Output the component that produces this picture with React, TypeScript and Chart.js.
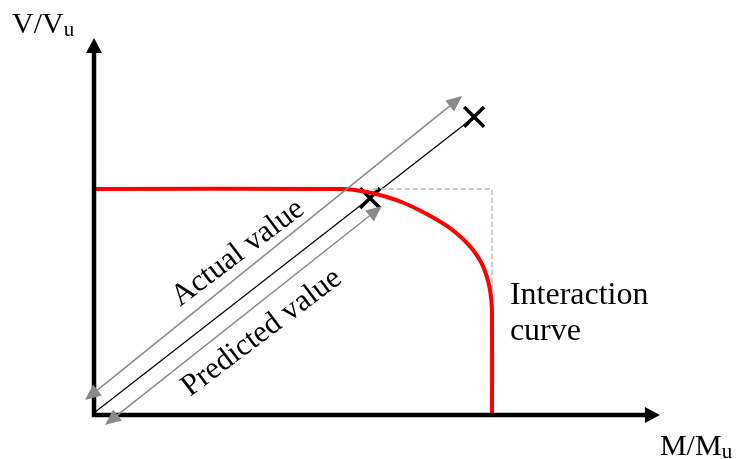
import React, { useEffect, useRef } from "react";
import { Chart, registerables } from "chart.js";

Chart.register(...registerables);

// ---- data (normalised M/Mu, V/Vu) ----
const curveM = [0, 0.6256, 0.6859, 0.7362, 0.7789, 0.8116, 0.8518, 0.8945, 0.9271, 0.9523, 0.9724, 0.9849, 0.9937, 0.9982, 1.0, 1.0];
const curveV = [1.0, 1.0, 0.9867, 0.9646, 0.9381, 0.9115, 0.8739, 0.8274, 0.7788, 0.7301, 0.677, 0.6239, 0.5664, 0.5088, 0.4558, 0];

const boundM = [0.701, 1.0, 1.0];
const boundV = [1.0, 1.0, 0.52];

const loadM = [0.003, 0.955];
const loadV = [0.013, 1.319];

const markM = [0.6935, 0.955];
const markV = [0.96, 1.319];

const xRange = [-0.2362, 1.6156];
const yRange = [-0.1947, 1.8363];

// arrows: [fromM, fromV, toM, toV]
const axisY = [0, 0, 0, 1.668];
const axisX = [0, 0, 1.422, 0];
const actualArrow = [-0.0226, 0.066, 0.925, 1.412];
const predictedArrow = [0.0276, -0.044, 0.7236, 0.925];

// labels
const labelTexts = ["V/V", "M/M", "Interaction", "curve", "Actual value", "Predicted value"];
const labelSubs = ["u", "u", "", "", "", ""];
const labelM = [-0.206, 1.422, 1.045, 1.045, 0.216, 0.241];
const labelV = [1.69, -0.177, 0.491, 0.332, 0.478, 0.0796];
const labelRot = [0, 0, 0, 0, -37, -37];
const labelSize = [30, 30, 32, 32, 31, 31];

const FONT = "'Liberation Serif', 'Times New Roman', serif";

function toPts(xs: number[], ys: number[]) {
  return xs.map((m, i) => ({ x: m, y: ys[i] }));
}

const overlay = {
  id: "overlay",
  afterDatasetsDraw(chart: any) {
    const { ctx } = chart;
    const sx = chart.scales.x;
    const sy = chart.scales.y;
    const px = (m: number) => sx.getPixelForValue(m);
    const py = (v: number) => sy.getPixelForValue(v);

    const head = (tx: number, ty: number, ux: number, uy: number, len: number, w: number, color: string) => {
      ctx.beginPath();
      ctx.moveTo(tx, ty);
      ctx.lineTo(tx - ux * len - uy * w / 2, ty - uy * len + ux * w / 2);
      ctx.lineTo(tx - ux * len + uy * w / 2, ty - uy * len - ux * w / 2);
      ctx.closePath();
      ctx.fillStyle = color;
      ctx.fill();
    };

    ctx.save();
    // axes
    const ox = px(0), oy = py(0);
    const yt = py(axisY[3]);
    const xt = px(axisX[2]);
    const hl = 15, hw = 16;
    ctx.strokeStyle = "#000";
    ctx.lineWidth = 4.5;
    ctx.lineJoin = "miter";
    ctx.lineCap = "butt";
    ctx.beginPath();
    ctx.moveTo(ox, yt + hl - 1);
    ctx.lineTo(ox, oy);
    ctx.lineTo(xt - hl + 1, oy);
    ctx.stroke();
    head(ox, yt, 0, -1, hl, hw, "#000");
    head(xt, oy, 1, 0, hl, hw, "#000");

    // double-headed gray arrows
    const gray = "#8a8a8a";
    [actualArrow, predictedArrow].forEach((a) => {
      const x1 = px(a[0]), y1 = py(a[1]), x2 = px(a[2]), y2 = py(a[3]);
      const dx = x2 - x1, dy = y2 - y1;
      const L = Math.hypot(dx, dy);
      const ux = dx / L, uy = dy / L;
      const al = 16, aw = 14;
      ctx.strokeStyle = gray;
      ctx.lineWidth = 1.5;
      ctx.beginPath();
      ctx.moveTo(x1 + ux * (al - 1), y1 + uy * (al - 1));
      ctx.lineTo(x2 - ux * (al - 1), y2 - uy * (al - 1));
      ctx.stroke();
      head(x2, y2, ux, uy, al, aw, gray);
      head(x1, y1, -ux, -uy, al, aw, gray);
    });

    // labels
    ctx.fillStyle = "#000";
    ctx.textBaseline = "alphabetic";
    ctx.textAlign = "left";
    labelTexts.forEach((t, i) => {
      ctx.save();
      ctx.translate(px(labelM[i]), py(labelV[i]));
      ctx.rotate((labelRot[i] * Math.PI) / 180);
      ctx.font = `${labelSize[i]}px ${FONT}`;
      ctx.fillText(t, 0, 0);
      if (labelSubs[i]) {
        const w = ctx.measureText(t).width;
        ctx.font = `21px ${FONT}`;
        ctx.fillText(labelSubs[i], w, 3);
      }
      ctx.restore();
    });
    ctx.restore();
  },
};

export default function App() {
  const ref = useRef<HTMLCanvasElement | null>(null);

  useEffect(() => {
    document.body.style.margin = "0";
    if (!ref.current) return;
    const chart = new Chart(ref.current, {
      type: "scatter",
      data: {
        datasets: [
          {
            label: "Interaction curve",
            data: toPts(curveM, curveV),
            showLine: true,
            borderColor: "#ff0000",
            borderWidth: 4,
            pointRadius: 0,
            tension: 0.25,
          },
          {
            label: "Bound",
            data: toPts(boundM, boundV),
            showLine: true,
            borderColor: "#bdbdbd",
            borderWidth: 1.5,
            borderDash: [5, 3],
            pointRadius: 0,
            tension: 0,
          },
          {
            label: "Load path",
            data: toPts(loadM, loadV),
            showLine: true,
            borderColor: "#000",
            borderWidth: 1.2,
            pointRadius: 0,
            tension: 0,
          },
          {
            label: "Points",
            data: toPts(markM, markV),
            showLine: false,
            pointStyle: "crossRot",
            pointRadius: 14,
            pointBorderWidth: 3.5,
            pointBorderColor: "#000",
            borderColor: "#000",
          },
        ],
      },
      options: {
        animation: false,
        responsive: false,
        maintainAspectRatio: false,
        devicePixelRatio: 1,
        layout: { padding: 0, autoPadding: false },
        plugins: { legend: { display: false }, tooltip: { enabled: false } },
        scales: {
          x: { type: "linear", min: xRange[0], max: xRange[1], display: false },
          y: { type: "linear", min: yRange[0], max: yRange[1], display: false },
        },
      },
      plugins: [overlay],
    });
    return () => chart.destroy();
  }, []);

  return (
    <div style={{ position: "absolute", left: 0, top: 0, width: 737, height: 459, background: "#fff" }}>
      <canvas ref={ref} width={737} height={459} style={{ display: "block" }} />
    </div>
  );
}
